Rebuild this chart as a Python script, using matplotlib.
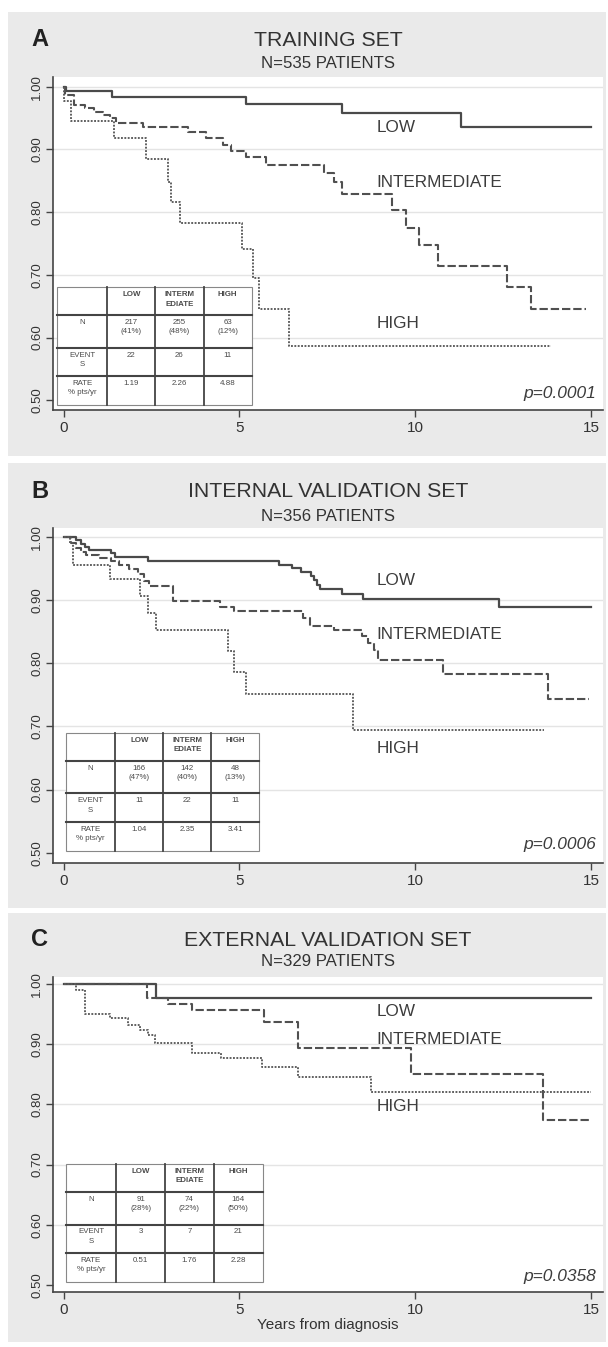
import matplotlib
matplotlib.use('Agg')
import matplotlib.pyplot as plt
from matplotlib.patches import Rectangle

plt.rcParams['font.family'] = ['Liberation Sans', 'DejaVu Sans']

# ---- data ----
panel_letters = ['A', 'B', 'C']
panel_titles = ['TRAINING SET', 'INTERNAL VALIDATION SET', 'EXTERNAL VALIDATION SET']
panel_subtitles = ['N=535 PATIENTS', 'N=356 PATIENTS', 'N=329 PATIENTS']
p_values = ['p=0.0001', 'p=0.0006', 'p=0.0358']
groups = ['LOW', 'INTERMEDIATE', 'HIGH']

# panel A (training)
a_low_t = [0, 0.06, 1.38, 5.19, 7.92, 11.3, 14.99]
a_low_s = [1.0, 0.993, 0.984, 0.972, 0.9585, 0.935, 0.935]
a_int_t = [0, 0.03, 0.31, 0.60, 0.88, 1.12, 1.31, 1.50, 2.25, 3.53, 4.05, 4.53, 4.76,
           5.19, 5.76, 7.40, 7.70, 7.92, 9.34, 9.75, 10.11, 10.65, 12.60, 13.30, 14.85]
a_int_s = [1.0, 0.986, 0.971, 0.9655, 0.960, 0.955, 0.9495, 0.9426, 0.935, 0.927, 0.919, 0.907, 0.8975,
           0.888, 0.875, 0.862, 0.8485, 0.829, 0.803, 0.775, 0.7475, 0.7145, 0.681, 0.645, 0.645]
a_high_t = [0, 0.02, 0.22, 1.43, 2.35, 2.96, 3.06, 3.31, 5.07, 5.38, 5.57, 6.42, 13.85]
a_high_s = [1.0, 0.978, 0.946, 0.919, 0.8847, 0.8485, 0.8156, 0.782, 0.741, 0.6944, 0.645, 0.587, 0.587]

# panel B (internal validation)
b_low_t = [0, 0.36, 0.50, 0.60, 0.72, 1.35, 1.47, 2.41, 6.14, 6.51, 6.75, 7.03, 7.12, 7.22,
           7.29, 7.92, 8.52, 12.39, 14.99]
b_low_s = [1.0, 0.9946, 0.989, 0.984, 0.979, 0.9746, 0.969, 0.9614, 0.956, 0.951, 0.9445, 0.9387,
           0.932, 0.924, 0.918, 0.910, 0.9017, 0.889, 0.889]
b_int_t = [0, 0.22, 0.36, 0.50, 0.64, 1.02, 1.35, 1.59, 1.875, 2.11, 2.30, 2.44, 3.125, 4.45,
           4.84, 6.82, 7.01, 7.70, 8.50, 8.67, 8.84, 8.93, 10.80, 13.79, 14.94]
b_int_s = [1.0, 0.990, 0.9825, 0.977, 0.972, 0.9667, 0.9614, 0.956, 0.949, 0.9418, 0.9297, 0.9217,
           0.898, 0.889, 0.883, 0.8716, 0.8594, 0.853, 0.8436, 0.832, 0.8214, 0.8045, 0.7834,
           0.7437, 0.7437]
b_high_t = [0, 0.19, 0.28, 1.31, 2.16, 2.40, 2.63, 4.69, 4.86, 5.19, 8.22, 13.66]
b_high_s = [1.0, 0.990, 0.956, 0.9334, 0.906, 0.8796, 0.853, 0.820, 0.787, 0.751, 0.6946, 0.6946]

# panel C (external validation)
c_low_t = [0, 2.63, 14.99]
c_low_s = [1.0, 0.977, 0.977]
c_int_t = [0, 2.37, 2.96, 3.66, 5.71, 6.66, 9.88, 13.64, 14.99]
c_int_s = [1.0, 0.977, 0.967, 0.957, 0.9374, 0.893, 0.850, 0.774, 0.774]
c_high_t = [0, 0.36, 0.62, 1.31, 1.83, 2.16, 2.40, 2.61, 3.66, 4.48, 5.64, 6.66, 8.74, 14.99]
c_high_s = [1.0, 0.990, 0.9497, 0.943, 0.932, 0.9236, 0.915, 0.9014, 0.885, 0.8766, 0.8626,
            0.846, 0.821, 0.821]

# tables
table_header = ['', 'LOW', 'INTERM\nEDIATE', 'HIGH']
row_labels = ['N', 'EVENT\nS', 'RATE\n% pts/yr']
a_n = ['217\n(41%)', '255\n(48%)', '63\n(12%)']
a_events = ['22', '26', '11']
a_rate = ['1.19', '2.26', '4.88']
b_n = ['166\n(47%)', '142\n(40%)', '48\n(13%)']
b_events = ['11', '22', '11']
b_rate = ['1.04', '2.35', '3.41']
c_n = ['91\n(28%)', '74\n(22%)', '164\n(50%)']
c_events = ['3', '7', '21']
c_rate = ['0.51', '1.76', '2.28']

x_ticks = [0, 5, 10, 15]
y_ticks = [0.5, 0.6, 0.7, 0.8, 0.9, 1.0]
y_ticklabels = ['0.50', '0.60', '0.70', '0.80', '0.90', '1.00']

# ---- layout (pixels) ----
W, H = 608, 1347
fig = plt.figure(figsize=(W / 100, H / 100), dpi=100)
fig.patch.set_facecolor('white')

BG = '#eaeaea'
TXT = '#333333'

panels = [
    dict(box=(8, 12, 606, 456), ax=(53, 77, 603, 410), ylim=(0.4844, 1.0155),
         title_y=40, sub_y=63, table=(0.0075, 0.015, 0.354, 0.3535),
         curves=[(a_low_t, a_low_s), (a_int_t, a_int_s), (a_high_t, a_high_s)],
         labels_y=[0.935, 0.8475, 0.6227], p_y=0.511,
         rows=[a_n, a_events, a_rate]),
    dict(box=(8, 463, 606, 908), ax=(53, 528, 603, 863), ylim=(0.4838, 1.0143),
         title_y=492, sub_y=516, table=(0.023, 0.0367, 0.352, 0.3508),
         curves=[(b_low_t, b_low_s), (b_int_t, b_int_s), (b_high_t, b_high_s)],
         labels_y=[0.9307, 0.845, 0.6656], p_y=0.5124,
         rows=[b_n, b_events, b_rate]),
    dict(box=(8, 913, 606, 1342), ax=(53, 977, 603, 1292), ylim=(0.4884, 1.0116),
         title_y=940, sub_y=962, table=(0.023, 0.031, 0.358, 0.375),
         curves=[(c_low_t, c_low_s), (c_int_t, c_int_s), (c_high_t, c_high_s)],
         labels_y=[0.954, 0.9086, 0.796], p_y=0.5138,
         rows=[c_n, c_events, c_rate]),
]

line_styles = [
    dict(color='#4a4a4a', lw=1.6, linestyle='-'),
    dict(color='#505050', lw=1.5, linestyle=(0, (4, 1.4))),
    dict(color='#5a5a5a', lw=1.35, linestyle=(0, (1, 0.8))),
]


def draw_table(ax, box, rows):
    x0, y0, w, h = box
    col_w = [0.257, 0.2477, 0.2477, 0.2477]
    row_h = [0.235, 0.278, 0.24, 0.247]
    ax.add_patch(Rectangle((x0, y0), w, h, transform=ax.transAxes, facecolor='white',
                           edgecolor='#888888', lw=0.8, zorder=5, clip_on=False))
    xs = [x0]
    for cw in col_w:
        xs.append(xs[-1] + cw * w)
    ys = [y0 + h]
    for rh in row_h:
        ys.append(ys[-1] - rh * h)
    for x in xs[1:-1]:
        ax.plot([x, x], [y0, y0 + h], transform=ax.transAxes, color='#444444', lw=1.3,
                zorder=6, clip_on=False)
    for y in ys[1:-1]:
        ax.plot([x0, x0 + w], [y, y], transform=ax.transAxes, color='#444444', lw=1.5,
                zorder=6, clip_on=False)
    cells = [table_header] + [[row_labels[i]] + rows[i] for i in range(3)]
    for r, row in enumerate(cells):
        for c, txt in enumerate(row):
            if not txt:
                continue
            cx = (xs[c] + xs[c + 1]) / 2
            ax.text(cx, ys[r] - 0.012, txt, transform=ax.transAxes, ha='center', va='top',
                    fontsize=5.7, color='#4a4a4a', linespacing=1.45, zorder=7,
                    fontweight='bold' if r == 0 else 'normal')


for i, p in enumerate(panels):
    bl, bt, br, bb = p['box']
    bg = Rectangle((bl / W, 1 - bb / H), (br - bl) / W, (bb - bt) / H,
                   transform=fig.transFigure, facecolor=BG, edgecolor='none', zorder=-10)
    fig.add_artist(bg)
    al, at, ar, ab = p['ax']
    ax = fig.add_axes([al / W, 1 - ab / H, (ar - al) / W, (ab - at) / H])
    ax.set_zorder(1)
    ax.set_facecolor('white')
    ax.set_xlim(-0.3, 15.34)
    ax.set_ylim(*p['ylim'])

    for y in [0.6, 0.7, 0.8, 0.9, 1.0]:
        ax.axhline(y, color='#e4e4e4', lw=1.0, zorder=1)

    for (t, s), st in zip(p['curves'], line_styles):
        ax.step(t, s, where='post', zorder=3, **st)

    for g, ly in zip(groups, p['labels_y']):
        ax.text(8.9, ly, g, ha='left', va='center', fontsize=12.3, color='#3c3c3c', zorder=4)
    ax.text(15.14, p['p_y'], p_values[i], ha='right', va='center', fontsize=12.5,
            style='italic', color='#3c3c3c', zorder=4)

    draw_table(ax, p['table'], p['rows'])

    for side in ['top', 'right']:
        ax.spines[side].set_visible(False)
    for side in ['left', 'bottom']:
        ax.spines[side].set_color('#444444')
        ax.spines[side].set_linewidth(1.2)
    ax.set_xticks(x_ticks)
    ax.set_xticklabels([str(v) for v in x_ticks])
    ax.set_yticks(y_ticks)
    ax.set_yticklabels(y_ticklabels, rotation=90, va='center')
    ax.tick_params(axis='x', length=5, width=1, colors='#444444', labelsize=11,
                   labelcolor=TXT, pad=3)
    ax.tick_params(axis='y', length=5, width=1, colors='#444444', labelsize=9.5,
                   labelcolor=TXT, pad=2)
    if i == 2:
        ax.set_xlabel('Years from diagnosis', fontsize=11, color=TXT, labelpad=1)

    cx = ((al + ar) / 2) / W
    fig.text(cx, 1 - p['title_y'] / H, panel_titles[i], ha='center', va='center',
             fontsize=15.3, color=TXT)
    fig.text(cx, 1 - p['sub_y'] / H, panel_subtitles[i], ha='center', va='center',
             fontsize=12.1, color=TXT)
    fig.text(31 / W, 1 - p['title_y'] / H, panel_letters[i], ha='left', va='center',
             fontsize=17, fontweight='bold', color='#222222')

fig.savefig('out.png', dpi=100)
